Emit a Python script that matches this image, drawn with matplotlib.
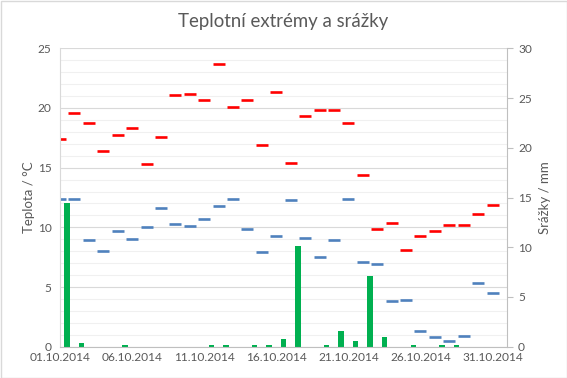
import matplotlib
matplotlib.use("Agg")
import matplotlib.pyplot as plt
from matplotlib.ticker import MultipleLocator, FixedLocator
from matplotlib.patches import Rectangle

plt.rcParams['font.family'] = ['Lato', 'DejaVu Sans']

days = list(range(1, 32))
tmax = [17.4, 19.6, 18.7, 16.4, 17.7, 18.3, 15.3, 17.6, 21.1, 21.2, 20.7, 23.7, 20.1, 20.7, 16.9, 21.3,
        15.4, 19.3, 19.8, 19.8, 18.7, 14.4, 9.9, 10.4, 8.1, 9.3, 9.7, 10.2, 10.2, 11.1, 11.9]
tmin = [12.4, 12.4, 8.9, 8.0, 9.7, 9.0, 10.0, 11.6, 10.3, 10.1, 10.7, 11.8, 12.4, 9.9, 7.9, 9.3,
        12.3, 9.1, 7.5, 8.9, 12.4, 7.1, 6.9, 3.8, 3.9, 1.3, 0.8, 0.5, 0.9, 5.3, 4.5]
precip = [14.4, 0.4, 0, 0, 0.2, 0, 0, 0, 0, 0, 0.2, 0.2, 0, 0.2, 0.2, 0.8,
          10.1, 0, 0.2, 1.6, 0.6, 7.1, 1.0, 0, 0.2, 0, 0.2, 0.2, 0, 0, 0]
tick_days = [1, 6, 11, 16, 21, 26, 31]
tick_labels = ["01.10.2014", "06.10.2014", "11.10.2014", "16.10.2014",
               "21.10.2014", "26.10.2014", "31.10.2014"]

txt = '#595959'
fig = plt.figure(figsize=(5.67, 3.78), dpi=100)
ax = fig.add_axes([60/567, 1-346.7/378, 447/567, (346.7-48.3)/378])
ax2 = ax.twinx()

ax.set_xlim(1, 32)
ax.set_ylim(0, 25)
ax2.set_ylim(0, 30)

ax.xaxis.set_major_locator(FixedLocator(tick_days))
ax.yaxis.set_major_locator(MultipleLocator(5))
ax.set_xticklabels(tick_labels)
ax.tick_params(axis='x', which='both', length=0, labelsize=8.6, colors=txt, pad=4)
ax.tick_params(axis='y', which='both', length=0, labelsize=8.6, colors=txt, pad=6)
ax2.set_yticks([0, 5, 10, 15, 20, 25, 30])
ax2.tick_params(axis='y', length=4, width=0.8, color='#BFBFBF', labelsize=8.6, labelcolor=txt, pad=4)

for a in (ax, ax2):
    for s in a.spines.values():
        s.set_visible(False)
ax2.spines['right'].set_visible(True)
ax2.spines['right'].set_color('#BFBFBF')
ax2.spines['right'].set_linewidth(0.8)
ax.spines['bottom'].set_visible(True)
ax.spines['bottom'].set_color('#BFBFBF')
ax.spines['bottom'].set_linewidth(0.8)
ax.spines['left'].set_visible(True)
ax.spines['left'].set_color('#D9D9D9')
ax.spines['left'].set_linewidth(0.8)

# layering: ax (dashes) above ax2 (grid + bars)
ax.set_zorder(ax2.get_zorder() + 1)
ax.patch.set_visible(False)
ax2.patch.set_visible(True)
ax2.patch.set_facecolor('white')
ax2.set_axisbelow(True)

ax2.xaxis.set_major_locator(FixedLocator(tick_days))
ax2.xaxis.set_minor_locator(MultipleLocator(1))
ax2.grid(which='major', axis='x', color='#D9D9D9', lw=0.8)
ax2.grid(which='minor', axis='x', color='#F0F0F0', lw=0.8)
for v in range(0, 26):
    col = '#D9D9D9' if v % 5 == 0 else '#F0F0F0'
    ax2.axhline(v * 30 / 25, color=col, lw=0.8, zorder=0.5)

# bars on secondary axis (between ticks)
bar_x = [d + 0.5 for d in days]
ax2.bar(bar_x, precip, width=0.38, color='#00B050', zorder=2)

# dashes on primary axis
ax.plot(days, tmax, ls='none', marker='_', ms=8.4, mew=1.9, color='#FF0000')
ax.plot(days, tmin, ls='none', marker='_', ms=8.4, mew=1.9, color='#4F81BD')

ax.set_ylabel('Teplota / °C', color=txt, fontsize=9.5, labelpad=2)
ax2.set_ylabel('Srážky / mm', color=txt, fontsize=9.5, labelpad=5)
fig.suptitle('Teplotní extrémy a srážky', x=0.5, y=1-22/378, va='center', fontsize=13.4, color=txt)

fig.patches.append(Rectangle((0.5/567, 0.5/378), 1-1/567, 1-1/378, transform=fig.transFigure,
                             fill=False, edgecolor='#D9D9D9', lw=1))

fig.savefig('out.png', dpi=100)
